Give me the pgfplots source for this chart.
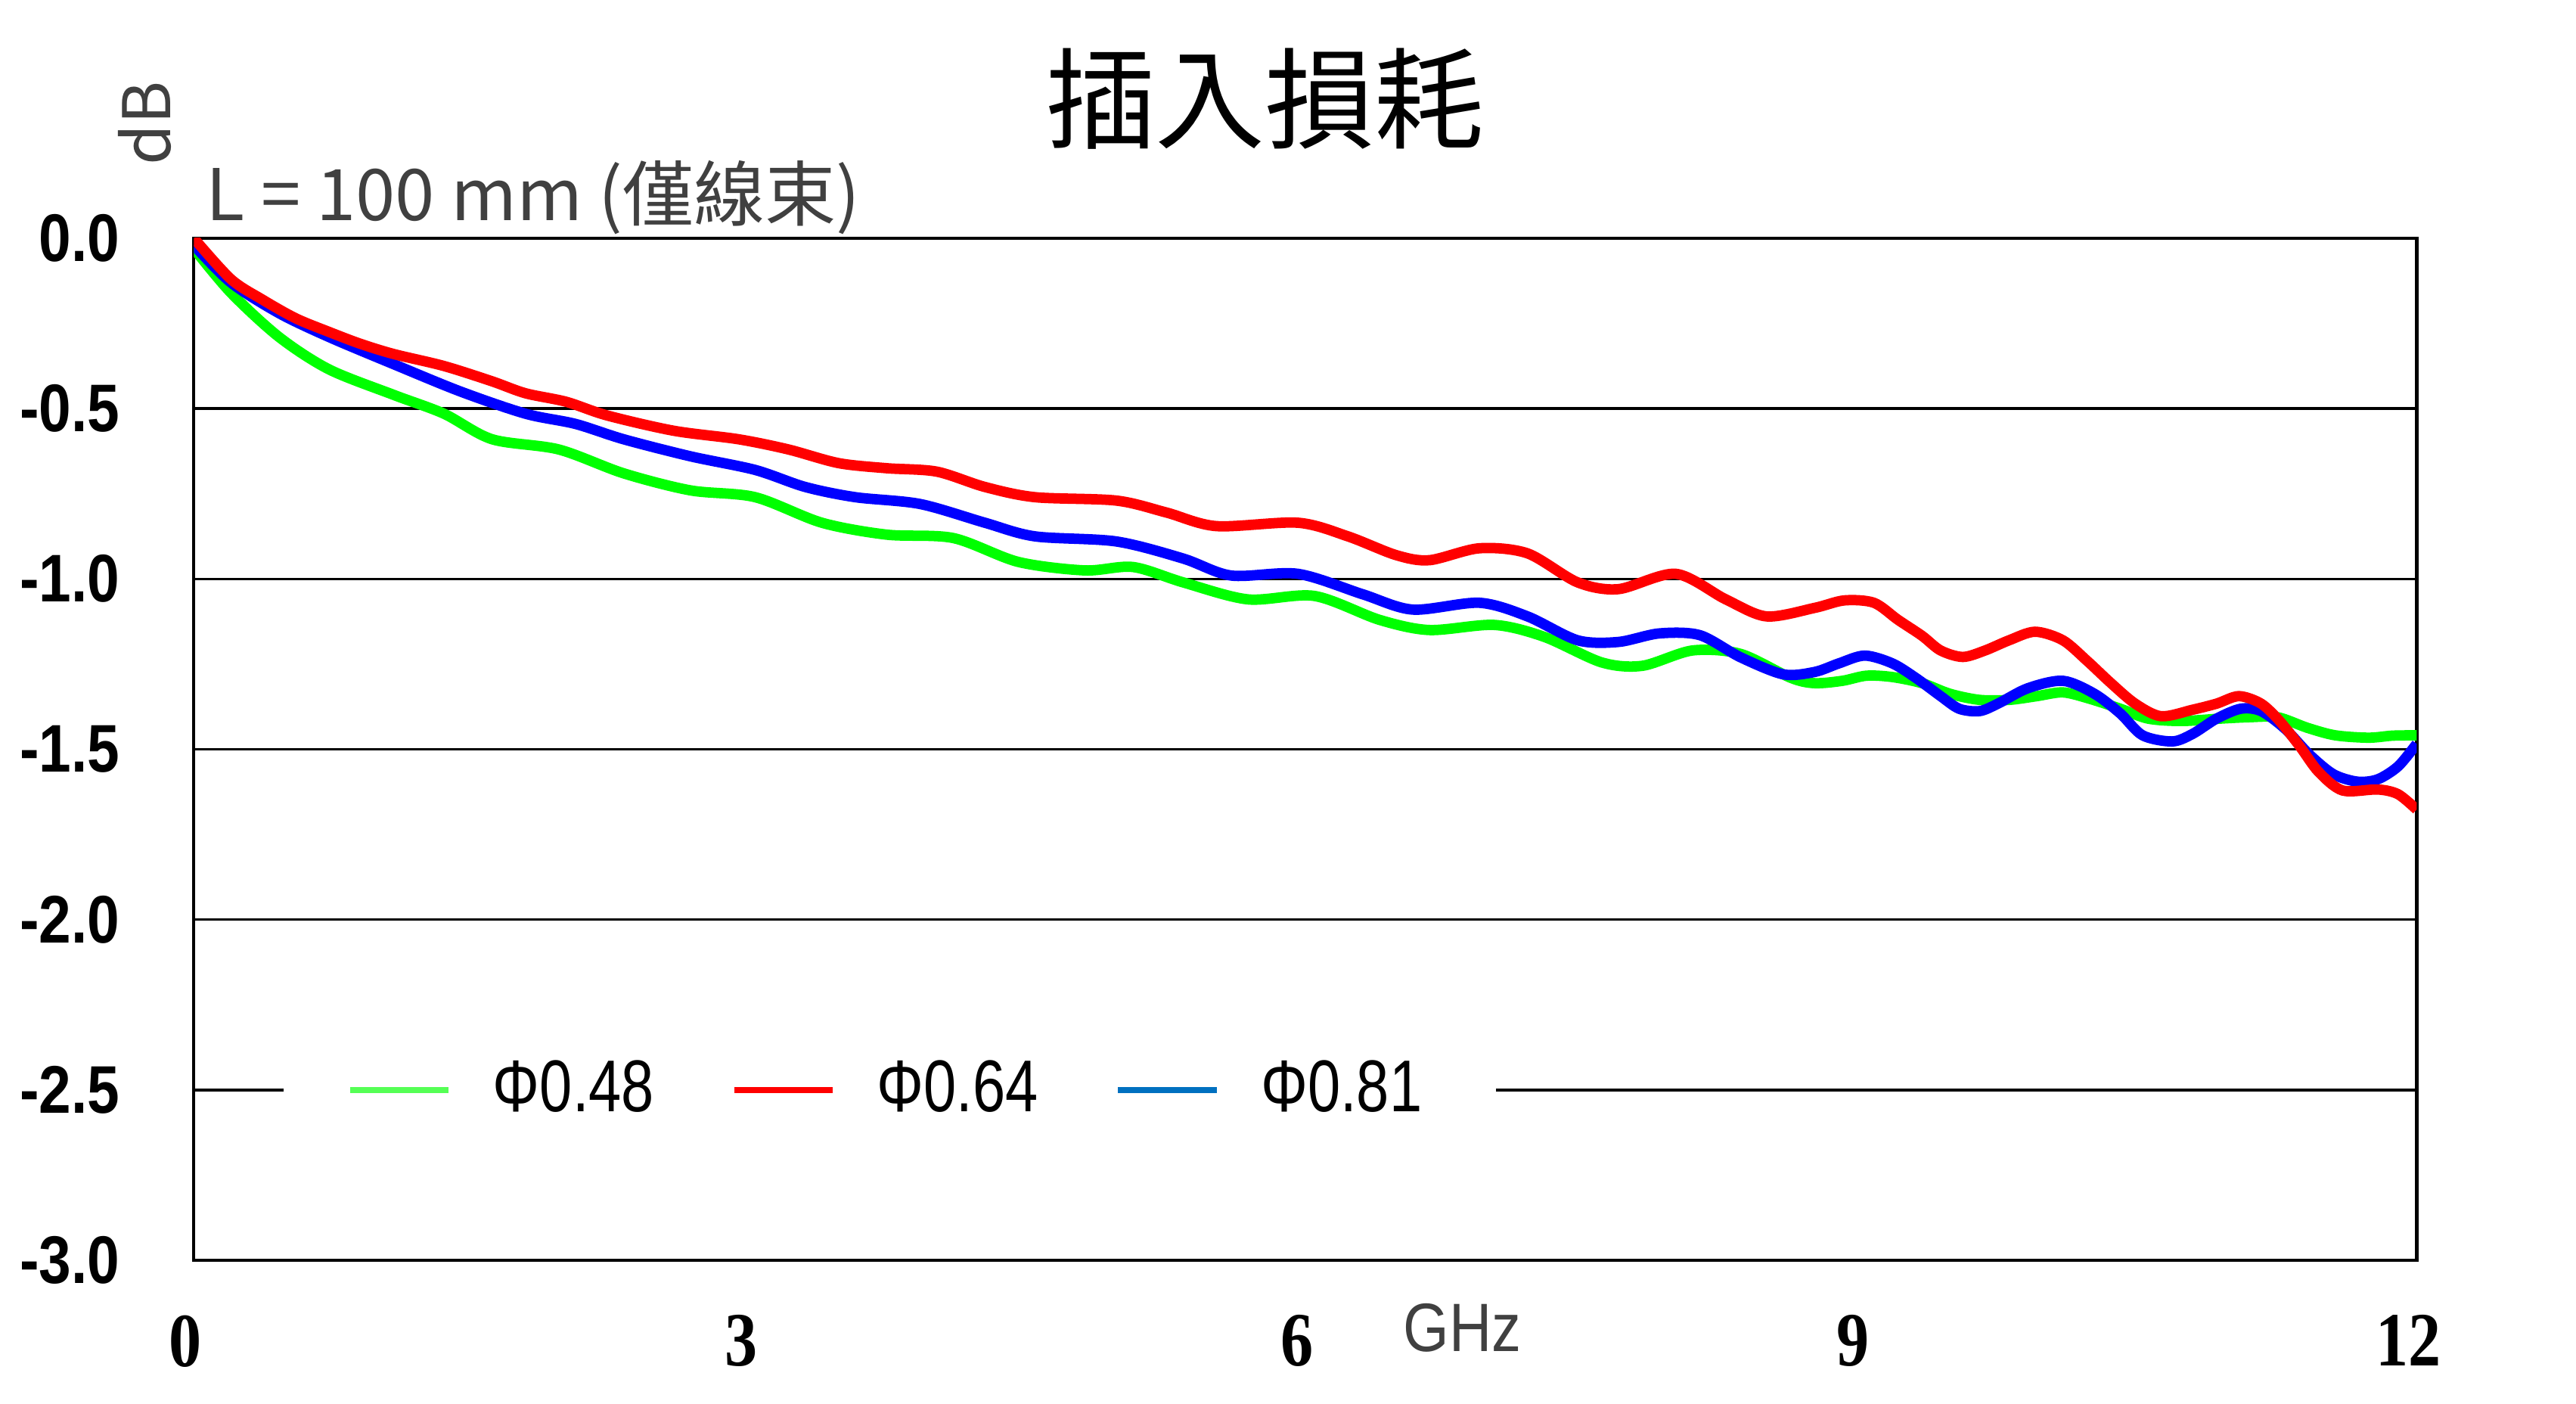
\documentclass[border=0pt]{standalone}
\usepackage{fontspec}
\usepackage{pgfplots}
\pgfplotsset{compat=1.18}
\setmainfont{Liberation Sans}
\newfontfamily\narrow[FakeStretch=0.86]{Liberation Sans}
\newfontfamily\legfont[FakeStretch=0.8]{Liberation Sans}
\newfontfamily\serifnarrow[FakeStretch=0.85]{Liberation Serif}
\newfontfamily\cjk{Noto Sans CJK TC}
\definecolor{cgreen}{RGB}{0,255,0}
\definecolor{cred}{RGB}{255,0,0}
\definecolor{cblue}{RGB}{0,0,255}
\definecolor{lgreen}{RGB}{85,255,85}
\definecolor{lblue}{RGB}{0,112,192}
\definecolor{cgray}{RGB}{64,64,64}
\begin{document}
\begin{tikzpicture}
\useasboundingbox (-35.4pt,-26.1pt) rectangle (435pt,230.1pt);
\begin{axis}[
  at={(0,0)}, anchor=south west, scale only axis,
  width=405.9pt, height=186.6pt,
  xmin=0, xmax=12, ymin=-3, ymax=0,
  xtick={0,3,6,9,12}, xticklabels={0,3,6,9,12},
  ytick={-3,-2.5,-2,-1.5,-1,-0.5,0},
  yticklabels={-3.0,-2.5,-2.0,-1.5,-1.0,-0.5,0.0},
  major tick length=0pt,
  ymajorgrids, major grid style={black, line width=0.45pt},
  axis line style={black, line width=0.6pt},
  yticklabel style={font=\narrow\bfseries\fontsize{12.3}{12.3}\selectfont, xshift=-10pt},
  xticklabel style={font=\serifnarrow\bfseries\fontsize{14}{14}\selectfont, yshift=-6.5pt, xshift=-1.5pt},
  legend columns=3,
  legend image code/.code={\draw[#1] (0pt,0pt) -- (18pt,0pt);},
  legend style={at={(axis cs:0.48,-2.5)}, anchor=west, fill=white, draw=none,
    inner xsep=11.5pt, inner ysep=3pt,
    font=\legfont\fontsize{13.4}{15}\selectfont,
    /tikz/every odd column/.append style={column sep=5.5pt},
    /tikz/every even column/.append style={column sep=12pt}},
]
\addplot[cgreen, line width=1.9pt, smooth, forget plot] coordinates {
(0,-0.03) (0.2,-0.16) (0.46,-0.29) (0.73,-0.385) (1.08,-0.46) (1.35,-0.515) (1.61,-0.59) (1.97,-0.62) (2.32,-0.69) (2.68,-0.74) (3.03,-0.76) (3.39,-0.835) (3.74,-0.87) (4.1,-0.88) (4.45,-0.95) (4.81,-0.975) (5.07,-0.965) (5.34,-1.01) (5.69,-1.06) (6.05,-1.05) (6.4,-1.12) (6.67,-1.15) (7.02,-1.135) (7.29,-1.17) (7.6,-1.245) (7.82,-1.255) (8.09,-1.21) (8.35,-1.22) (8.62,-1.29) (8.75,-1.306) (8.9,-1.299) (9.03,-1.284) (9.17,-1.288) (9.33,-1.306) (9.48,-1.337) (9.64,-1.355) (9.8,-1.355) (9.95,-1.344) (10.09,-1.333) (10.23,-1.351) (10.4,-1.381) (10.55,-1.41) (10.73,-1.417) (10.94,-1.41) (11.09,-1.406) (11.25,-1.406) (11.41,-1.437) (11.56,-1.459) (11.74,-1.466) (11.87,-1.46) (12.0,-1.459)
};
\addplot[cblue, line width=1.9pt, smooth, forget plot] coordinates {
(0,-0.02) (0.2,-0.13) (0.46,-0.22) (0.73,-0.29) (1.08,-0.37) (1.44,-0.45) (1.79,-0.515) (2.06,-0.545) (2.32,-0.59) (2.68,-0.64) (3.03,-0.68) (3.3,-0.73) (3.57,-0.76) (3.92,-0.78) (4.27,-0.835) (4.54,-0.875) (4.98,-0.89) (5.34,-0.94) (5.6,-0.99) (5.96,-0.985) (6.31,-1.045) (6.58,-1.09) (6.94,-1.07) (7.2,-1.11) (7.47,-1.18) (7.69,-1.185) (7.91,-1.16) (8.13,-1.165) (8.35,-1.23) (8.58,-1.28) (8.75,-1.273) (8.88,-1.248) (9.02,-1.225) (9.17,-1.248) (9.3,-1.292) (9.43,-1.344) (9.53,-1.381) (9.64,-1.388) (9.74,-1.366) (9.9,-1.321) (10.09,-1.299) (10.26,-1.337) (10.4,-1.395) (10.52,-1.459) (10.68,-1.477) (10.79,-1.455) (10.92,-1.41) (11.05,-1.381) (11.16,-1.388) (11.29,-1.44) (11.42,-1.515) (11.55,-1.573) (11.68,-1.595) (11.79,-1.588) (11.9,-1.55) (12.0,-1.484)
};
\addplot[cred, line width=1.9pt, smooth, forget plot] coordinates {
(0,0) (0.2,-0.12) (0.37,-0.18) (0.55,-0.235) (0.73,-0.275) (0.9,-0.31) (1.08,-0.34) (1.35,-0.375) (1.61,-0.42) (1.79,-0.455) (2.01,-0.48) (2.23,-0.52) (2.59,-0.565) (2.94,-0.59) (3.21,-0.62) (3.48,-0.66) (3.74,-0.675) (4.01,-0.685) (4.27,-0.73) (4.54,-0.76) (4.98,-0.77) (5.25,-0.805) (5.52,-0.845) (5.96,-0.835) (6.23,-0.875) (6.49,-0.93) (6.67,-0.945) (6.94,-0.91) (7.2,-0.925) (7.47,-1.01) (7.69,-1.03) (8.0,-0.985) (8.27,-1.06) (8.49,-1.11) (8.75,-1.085) (8.91,-1.063) (9.07,-1.07) (9.2,-1.12) (9.33,-1.167) (9.43,-1.21) (9.55,-1.229) (9.67,-1.21) (9.8,-1.18) (9.94,-1.155) (10.09,-1.18) (10.22,-1.24) (10.35,-1.306) (10.48,-1.366) (10.62,-1.403) (10.79,-1.384) (10.92,-1.366) (11.04,-1.344) (11.16,-1.366) (11.26,-1.417) (11.37,-1.492) (11.47,-1.566) (11.6,-1.621) (11.79,-1.618) (11.9,-1.632) (12.0,-1.677)
};
\addlegendimage{lgreen, line width=1.2pt}
\addlegendentry{Φ0.48}
\addlegendimage{cred, line width=1.2pt}
\addlegendentry{Φ0.64}
\addlegendimage{lblue, line width=1.2pt}
\addlegendentry{Φ0.81}
\end{axis}
\node[font=\cjk\fontsize{20}{20}\selectfont] at (195.6pt,212.1pt) {插入損耗};
\node[anchor=west, inner sep=0pt, text=cgray, font=\cjk\fontsize{13}{13}\selectfont] at (2.1pt,194.1pt) {L = 100 mm (僅線束)};
\node[rotate=90, text=cgray, font=\cjk\fontsize{12}{12}\selectfont] at (-9pt,207.6pt) {dB};
\node[text=cgray, font=\narrow\fontsize{12.5}{12.5}\selectfont] at (231.6pt,-12.3pt) {GHz};
\end{tikzpicture}
\end{document}
